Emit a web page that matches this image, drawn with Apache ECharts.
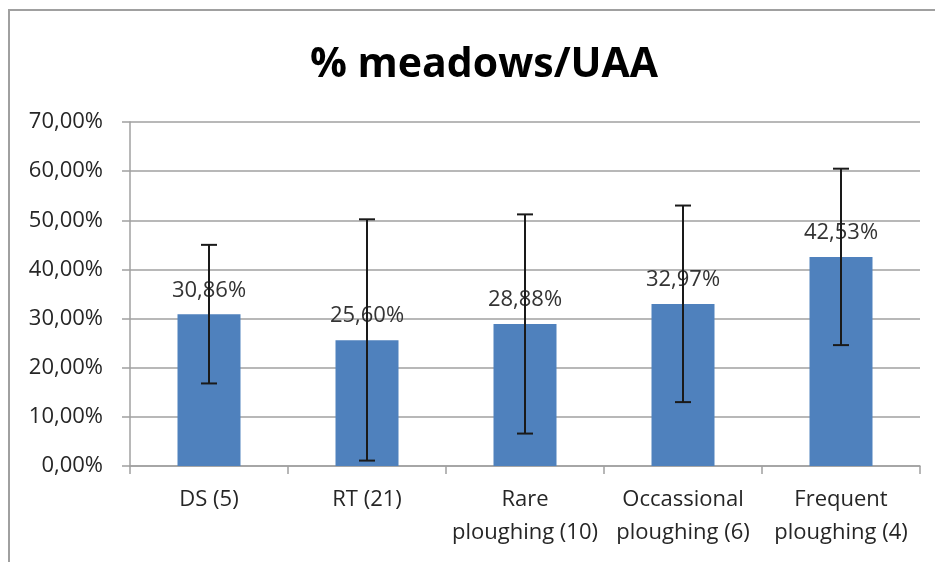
<!DOCTYPE html>
<html>
<head>
<meta charset="utf-8">
<script src="https://cdn.jsdelivr.net/npm/echarts@6/dist/echarts.min.js"></script>
<style>
  html, body { margin: 0; padding: 0; background: #fff; }
  #chart { width: 935px; height: 562px; }
  .frame { position: absolute; left: 8px; top: 9px; width: 940px; height: 600px; border: 2px solid #a0a0a0; box-sizing: border-box; pointer-events: none; }
</style>
</head>
<body>
<div id="chart"></div>
<div class="frame"></div>
<script>
var categories = ['DS (5)', 'RT (21)', 'Rare\nploughing (10)', 'Occassional\nploughing (6)', 'Frequent\nploughing (4)'];
var values = [30.86, 25.60, 28.88, 32.97, 42.53];
var errLow = [16.8, 1.1, 6.6, 13.0, 24.6];
var errHigh = [45.0, 50.2, 51.2, 53.0, 60.5];

var font = '"Open Sans", "Liberation Sans", sans-serif';
var chart = echarts.init(document.getElementById('chart'));

function fmt(v) {
    return v.toFixed(2).replace('.', ',') + '%';
}

var errData = values.map(function (v, i) {
    return [i, errLow[i], errHigh[i]];
});

var option = {
    animation: false,
    title: {
        text: '% meadows/UAA',
        left: 305,
        top: 40,
        textStyle: { fontFamily: font, fontSize: 41, fontWeight: 'bold', color: '#000' }
    },
    grid: { left: 130, right: 15, top: 122, bottom: 96 },
    xAxis: {
        type: 'category',
        data: categories,
        axisLine: { lineStyle: { color: '#a0a0a0', width: 1.5 } },
        axisTick: { show: true, length: 8, lineStyle: { color: '#a0a0a0', width: 1.5 } },
        axisLabel: { fontFamily: font, fontSize: 22, color: '#262626', lineHeight: 33, margin: 17, interval: 0 }
    },
    yAxis: {
        type: 'value',
        min: 0,
        max: 70,
        interval: 10,
        axisLine: { show: true, lineStyle: { color: '#a0a0a0', width: 1.5 } },
        axisTick: { show: true, length: 8, lineStyle: { color: '#a0a0a0', width: 1.5 } },
        splitLine: { lineStyle: { color: '#a0a0a0', width: 1.5 } },
        axisLabel: { fontFamily: font, fontSize: 22, color: '#262626', margin: 27, formatter: fmt }
    },
    series: [{
        type: 'bar',
        data: values,
        barWidth: 63,
        itemStyle: { color: '#4f81bd' },
        label: {
            show: true,
            position: 'top',
            distance: 13,
            fontFamily: font,
            fontSize: 22,
            color: '#333',
            formatter: function (p) { return fmt(p.value); }
        }
    }, {
        type: 'custom',
        data: errData,
        z: 10,
        renderItem: function (params, api) {
            var x = api.value(0);
            var lo = api.coord([x, api.value(1)]);
            var hi = api.coord([x, api.value(2)]);
            var cap = 8;
            var style = { stroke: '#1a1a1a', lineWidth: 2 };
            return {
                type: 'group',
                children: [
                    { type: 'line', shape: { x1: hi[0], y1: hi[1], x2: lo[0], y2: lo[1] }, style: style },
                    { type: 'line', shape: { x1: hi[0] - cap, y1: hi[1], x2: hi[0] + cap, y2: hi[1] }, style: style },
                    { type: 'line', shape: { x1: lo[0] - cap, y1: lo[1], x2: lo[0] + cap, y2: lo[1] }, style: style }
                ]
            };
        }
    }]
};

chart.setOption(option);
</script>
</body>
</html>
